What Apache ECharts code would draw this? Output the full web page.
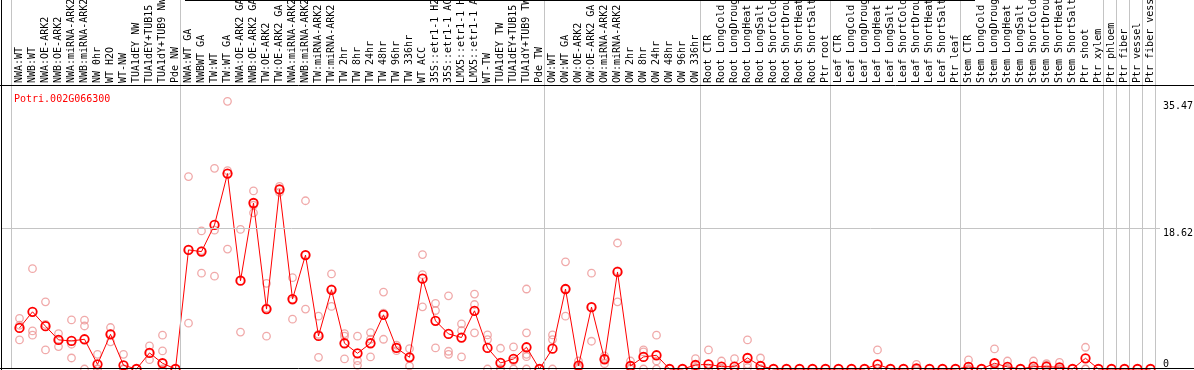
<!DOCTYPE html>
<html>
<head>
<meta charset="utf-8">
<script src="https://cdn.jsdelivr.net/npm/echarts@6/dist/echarts.min.js"></script>
<style>
html,body{margin:0;padding:0;background:#fff;}
#chart{width:1194px;height:370px;}
</style>
</head>
<body>
<div id="chart"></div>
<script>
const categories = [
  'NWA:WT','NWB:WT','NWA:OE-ARK2','NWB:OE-ARK2','NWA:miRNA-ARK2','NWB:miRNA-ARK2','NW 0hr','WT H2O','WT-NW','TUA1dEY NW','TUA1dEY+TUB15 NW','TUA1dY+TUB9 NW','Pde NW',
  'NWA:WT GA','NWBWT GA','TW:WT','TW:WT GA','NWA:OE-ARK2 GA','NWB:OE-ARK2 GA','TW:OE-ARK2','TW:OE-ARK2 GA','NWA:miRNA-ARK2','NWB:miRNA-ARK2','TW:miRNA-ARK2','TW:miRNA-ARK2',
  'TW 2hr','TW 8hr','TW 24hr','TW 48hr','TW 96hr','TW 336hr','WT ACC','35S::etr1-1 H2O','35S::etr1-1 ACC','LMX5::etr1-1 H2O','LMX5::etr1-1 ACC','WT-TW','TUA1dEY TW','TUA1dEY+TUB15 TW','TUA1dY+TUB9 TW','Pde TW',
  'OW:WT','OW:WT GA','OW:OE-ARK2','OW:OE-ARK2 GA','OW:miRNA-ARK2','OW:miRNA-ARK2','OW 2hr','OW 8hr','OW 24hr','OW 48hr','OW 96hr','OW 336hr',
  'Root CTR','Root LongCold','Root LongDrought','Root LongHeat','Root LongSalt','Root ShortCold','Root ShortDrought','Root ShortHeat','Root ShortSalt','Ptr root',
  'Leaf CTR','Leaf LongCold','Leaf LongDrought','Leaf LongHeat','Leaf LongSalt','Leaf ShortCold','Leaf ShortDrought','Leaf ShortHeat','Leaf ShortSalt','Ptr leaf',
  'Stem CTR','Stem LongCold','Stem LongDrought','Stem LongHeat','Stem LongSalt','Stem ShortCold','Stem ShortDrought','Stem ShortHeat','Stem ShortSalt','Ptr shoot',
  'Ptr xylem','Ptr phloem','Ptr fiber','Ptr vessel','Ptr fiber vessel'
];

const means = [
  5.45, 7.58, 5.67, 3.86, 3.72, 3.94, 0.62, 4.6, 0.49, 0, 2.13, 0.76, 0,
  15.78, 15.56, 19.1, 25.9, 11.7, 22.0, 7.94, 23.8, 9.27, 15.1, 4.39, 10.5,
  3.41, 2.08, 3.41, 7.18, 2.79, 1.55, 11.97, 6.38, 4.65, 4.17, 7.71, 2.79, 0.8, 1.33, 2.88, 0,
  2.7, 10.6, 0.44, 8.2, 1.29, 12.86, 0.4, 1.6, 1.82, 0, 0, 0.53,
  0.62, 0.31, 0.31, 1.46, 0.4, 0, 0, 0, 0, 0,
  0, 0, 0, 0.62, 0, 0, 0.09, 0, 0, 0,
  0.27, 0, 0.76, 0.27, 0, 0.31, 0.31, 0.22, 0, 1.42,
  0, 0, 0, 0, 0
];

const replicates = [
  [6.7, 5.8, 3.86], [13.3, 5.05, 4.48], [8.9, 5.9, 2.53], [4.7, 3.9, 2.97], [6.5, 3.28, 1.46], [6.47, 5.7, 0],
  [1.95, 0, 0], [5.5, 4.7, 3.6], [1.95, 0, 0], [], [3.06, 2.1, 1.24], [4.48, 2.4, 0], [],
  [25.5, 15.8, 6.08], [18.3, 15.7, 12.7], [26.6, 18.4, 12.3], [35.47, 26.3, 15.9], [18.5, 11.7, 4.9], [23.6, 21.7, 20.7],
  [11.35, 8.1, 4.35], [24.2, 23.8, 23.4], [12.1, 9.1, 6.6], [22.3, 15.1, 7.94], [7.0, 4.6, 1.55], [12.6, 10.6, 8.3],
  [4.7, 4.35, 1.33], [4.35, 1.1, 0.49], [4.83, 3.94, 1.6], [10.2, 7.4, 3.94], [3.15, 2.8, 2.43], [2.7, 1.55, 0.4],
  [15.16, 12.5, 8.24], [8.7, 7.75, 2.79], [9.7, 2.35, 1.95], [5.98, 5.1, 1.6], [9.93, 8.55, 4.79], [4.52, 3.9, 0],
  [2.75, 0, 0], [2.93, 1.06, 0], [10.6, 4.79, 1.95, 1.64, 0], [],
  [4.52, 3.9, 0], [14.2, 10.6, 7.0], [1.06, 0.27, 0], [12.7, 8.2, 3.68], [1.73, 1.4, 0.7], [16.7, 13.0, 8.9],
  [1.06, 0.1, 0], [2.53, 2.26, 0], [4.48, 1.06, 0], [], [], [1.37, 0.2, 0],
  [2.53, 0, 0], [1.06, 0, 0], [1.37, 0, 0], [3.86, 0.62, 0.18], [1.46, 0, 0], [], [], [], [], [],
  [], [], [], [2.53, 0, 0], [], [], [0.62, 0, 0], [], [], [],
  [1.2, 0, 0], [], [2.66, 0, 0], [1.06, 0, 0], [], [1.06, 0, 0], [0.71, 0.53, 0], [0.89, 0, 0], [], [2.88, 0, 0],
  [], [], [], [], []
];

// category-boundary indices where grey separators are drawn
const groupBreaks = [0, 13, 41, 53, 63, 73, 84, 85, 86, 87, 88];
const yTickLabels = [18.62, 35.47];
const yZeroLabel = [0];
const geneTitle = 'Potri.002G066300';

const Y_MAX = 37.64;
const MONO = 'DejaVu Sans Mono';

const repPoints = [];
replicates.forEach((arr, i) => arr.forEach(v => repPoints.push([i, v])));

const chart = echarts.init(document.getElementById('chart'), null, {renderer: 'canvas'});

const option = {
  animation: false,
  backgroundColor: '#fff',
  title: {
    text: geneTitle, left: 9, top: 89,
    textStyle: {color: '#ff0000', fontSize: 10, fontWeight: 'normal', fontFamily: MONO}
  },
  grid: [
    {left: 13, top: 85, width: 1144, height: 284, containLabel: false, outerBoundsMode: 'none'},
    {left: 2, top: 85, width: 1158, height: 284, containLabel: false, outerBoundsMode: 'none'},
    {left: 11.5, top: 0, width: 1144, height: 369, containLabel: false, outerBoundsMode: 'none'}
  ],
  xAxis: [
    {
      type: 'category', gridIndex: 0, position: 'top', data: categories, boundaryGap: true,
      axisLine: {show: false}, axisTick: {show: false}, splitLine: {show: false},
      axisLabel: {rotate: 90, interval: 0, margin: 2, align: 'left', verticalAlign: 'middle',
        fontSize: 10, color: '#000', fontFamily: MONO}
    },
    {type: 'value', gridIndex: 1, min: 0, max: 1, show: false},
    {type: 'value', gridIndex: 2, min: 0, max: categories.length, show: false}
  ],
  yAxis: [
    {type: 'value', gridIndex: 0, min: 0, max: Y_MAX, show: false},
    {
      type: 'value', gridIndex: 1, min: 0, max: Y_MAX, position: 'right',
      axisLine: {show: false}, axisTick: {show: false}, splitLine: {show: false},
      axisLabel: {customValues: yTickLabels, margin: 3, verticalAlign: 'top', fontSize: 10, color: '#000', fontFamily: MONO,
        formatter: v => String(v)}
    },
    {
      type: 'value', gridIndex: 1, min: 0, max: Y_MAX, position: 'right',
      axisLine: {show: false}, axisTick: {show: false}, splitLine: {show: false},
      axisLabel: {customValues: yZeroLabel, margin: 3, verticalAlign: 'bottom', fontSize: 10, color: '#000', fontFamily: MONO,
        formatter: v => String(v)}
    },
    {type: 'value', gridIndex: 2, min: 0, max: 1, show: false}
  ],
  series: [
    {
      type: 'scatter', xAxisIndex: 2, yAxisIndex: 3, data: [], silent: true, z: 1,
      markLine: {
        silent: true, symbol: ['none', 'none'], label: {show: false},
        lineStyle: {color: '#c4c4c4', width: 1, type: 'solid'},
        data: groupBreaks.map(b => ({xAxis: b}))
      }
    },
    {
      type: 'scatter', xAxisIndex: 1, yAxisIndex: 1, data: [], silent: true, z: 1,
      markLine: {
        silent: true, symbol: ['none', 'none'], label: {show: false},
        lineStyle: {color: '#c4c4c4', width: 1, type: 'solid'},
        data: [{yAxis: yTickLabels[0]}]
      }
    },
    {
      name: 'replicates', type: 'scatter', xAxisIndex: 0, yAxisIndex: 0, data: repPoints,
      symbol: 'circle', symbolSize: 7.5, clip: false, z: 3,
      itemStyle: {color: 'rgba(255,255,255,0)', borderColor: '#ec9393', borderWidth: 1.3}
    },
    {
      name: 'mean', type: 'line', xAxisIndex: 0, yAxisIndex: 0, data: means,
      symbol: 'circle', symbolSize: 8.5, showAllSymbol: true, clip: false, z: 4,
      lineStyle: {color: '#ff0000', width: 1},
      itemStyle: {color: 'rgba(255,255,255,0)', borderColor: '#ff0000', borderWidth: 1.8}
    }
  ],
  graphic: [
    {type: 'line', shape: {x1: 1.5, y1: 0, x2: 1.5, y2: 370}, style: {stroke: '#000', lineWidth: 1}, z: 100},
    {type: 'line', shape: {x1: 185, y1: 0.5, x2: 975, y2: 0.5}, style: {stroke: '#000', lineWidth: 1}, z: 100},
    {type: 'line', shape: {x1: 0, y1: 85.5, x2: 1194, y2: 85.5}, style: {stroke: '#000', lineWidth: 1}, z: 100},
    {type: 'line', shape: {x1: 0, y1: 368.5, x2: 1194, y2: 368.5}, style: {stroke: '#000', lineWidth: 1}, z: 100}
  ]
};

chart.setOption(option);
</script>
</body>
</html>
